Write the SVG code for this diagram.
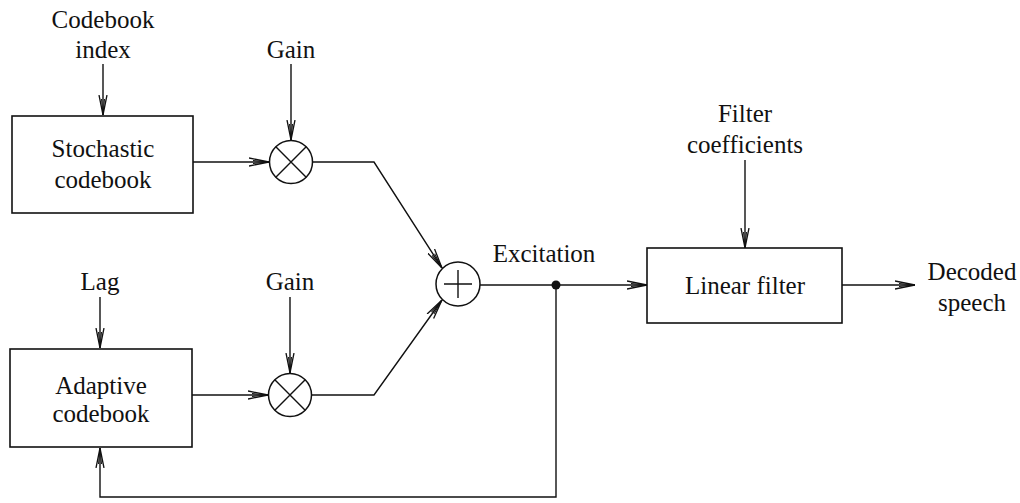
<svg xmlns="http://www.w3.org/2000/svg" width="1020" height="503" viewBox="0 0 1020 503">
<style>
.b{fill:#fff;stroke:#111;stroke-width:1.6}
.c{fill:none;stroke:#111;stroke-width:1.5}
.l{fill:none;stroke:#111;stroke-width:1.4}
</style>
<defs>
<marker id="a" viewBox="0 0 20 10" refX="20" refY="5" markerWidth="20" markerHeight="10" markerUnits="userSpaceOnUse" orient="auto">
<path d="M0,1 L20,5 L0,9" fill="none" stroke="#111" stroke-width="1.3"/>
<path d="M4,3.5 L20,5 L4,6.5" fill="none" stroke="#111" stroke-width="1"/>
</marker>
</defs>
<rect width="1020" height="503" fill="#fff"/>
<g id="connectors">
<line class="l" x1="103" y1="64" x2="103" y2="115" marker-end="url(#a)"/>
<line class="l" x1="291" y1="64" x2="291" y2="140" marker-end="url(#a)"/>
<line class="l" x1="193" y1="162" x2="269" y2="162" marker-end="url(#a)"/>
<polyline class="l" points="313,162 374,162 442,268" marker-end="url(#a)"/>
<line class="l" x1="100" y1="297" x2="100" y2="348" marker-end="url(#a)"/>
<line class="l" x1="290" y1="297" x2="290" y2="373" marker-end="url(#a)"/>
<line class="l" x1="192" y1="395" x2="268" y2="395" marker-end="url(#a)"/>
<polyline class="l" points="312,395 374,395 442,300" marker-end="url(#a)"/>
<line class="l" x1="480" y1="285" x2="647" y2="285" marker-end="url(#a)"/>
<polyline class="l" points="556,285 556,497 100,497 100,448" marker-end="url(#a)"/>
<line class="l" x1="745" y1="160" x2="745" y2="248" marker-end="url(#a)"/>
<line class="l" x1="842" y1="285" x2="915" y2="285" marker-end="url(#a)"/>
<circle cx="556" cy="285" r="4.5" fill="#111"/>
</g>
<g id="stochastic">
<rect class="b" x="12" y="116" width="181" height="97"/>
<text x="103" y="157" font-family="Liberation Serif" font-size="25" text-anchor="middle" fill="#111">Stochastic</text>
<text x="103" y="188" font-family="Liberation Serif" font-size="25" text-anchor="middle" fill="#111">codebook</text>
</g>
<g id="adaptive">
<rect class="b" x="10" y="349" width="182" height="98"/>
<text x="101" y="394" font-family="Liberation Serif" font-size="25" text-anchor="middle" fill="#111">Adaptive</text>
<text x="101" y="422" font-family="Liberation Serif" font-size="25" text-anchor="middle" fill="#111">codebook</text>
</g>
<g id="mult1">
<circle class="c" cx="291" cy="162" r="21.5"/>
<path class="l" d="M275.8,146.8 L306.2,177.2 M306.2,146.8 L275.8,177.2"/>
</g>
<g id="mult2">
<circle class="c" cx="290" cy="395" r="21.5"/>
<path class="l" d="M274.8,379.8 L305.2,410.2 M305.2,379.8 L274.8,410.2"/>
</g>
<g id="adder">
<circle class="c" cx="458" cy="284" r="22"/>
<path class="l" d="M444,284 L472,284 M458,270 L458,298"/>
</g>
<g id="filter">
<rect class="b" x="647" y="248" width="195" height="75"/>
<text x="745" y="294" font-family="Liberation Serif" font-size="25" text-anchor="middle" fill="#111">Linear filter</text>
</g>
<g id="labels">
<text x="103" y="28" font-family="Liberation Serif" font-size="25" text-anchor="middle" fill="#111">Codebook</text>
<text x="103" y="58" font-family="Liberation Serif" font-size="25" text-anchor="middle" fill="#111">index</text>
<text x="291" y="58" font-family="Liberation Serif" font-size="25" text-anchor="middle" fill="#111">Gain</text>
<text x="100" y="290" font-family="Liberation Serif" font-size="25" text-anchor="middle" fill="#111">Lag</text>
<text x="290" y="290" font-family="Liberation Serif" font-size="25" text-anchor="middle" fill="#111">Gain</text>
<text x="544" y="262" font-family="Liberation Serif" font-size="25" text-anchor="middle" fill="#111">Excitation</text>
<text x="745" y="122" font-family="Liberation Serif" font-size="25" text-anchor="middle" fill="#111">Filter</text>
<text x="745" y="153" font-family="Liberation Serif" font-size="25" text-anchor="middle" fill="#111">coefficients</text>
<text x="972" y="280" font-family="Liberation Serif" font-size="25" text-anchor="middle" fill="#111">Decoded</text>
<text x="972" y="311" font-family="Liberation Serif" font-size="25" text-anchor="middle" fill="#111">speech</text>
</g>
</svg>
